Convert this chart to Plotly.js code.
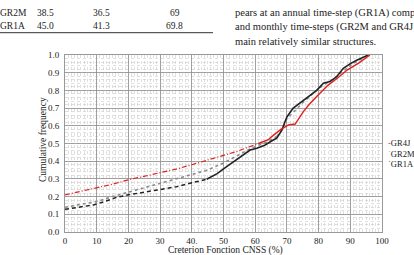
<!DOCTYPE html>
<html><head><meta charset="utf-8">
<script src="https://cdn.plot.ly/plotly-3.0.1.min.js"></script>
<style>html,body{margin:0;padding:0;background:#fff;}#chart{width:414px;height:255px;}</style>
</head><body><div id="chart"></div>
<script>
// GR4J (red)
const gr4jX = [0, 5, 10, 15, 20, 25, 30, 35, 40, 45, 50, 54, 58, 61, 64, 66, 68, 70.5, 72.6, 75.2, 77, 79.4, 83, 86, 89, 92.5, 96.2];
const gr4jY = [0.21, 0.23, 0.25, 0.27, 0.295, 0.315, 0.335, 0.355, 0.38, 0.405, 0.43, 0.454, 0.48, 0.50, 0.52, 0.55, 0.578, 0.605, 0.61, 0.68, 0.72, 0.765, 0.83, 0.87, 0.915, 0.953, 1.0];
// GR2M (grey)
const gr2mX = [0, 5, 10, 15, 20, 25, 30, 35, 40, 45, 50, 55, 58.4, 61, 64, 66.8, 68.4, 70, 75, 80, 85, 90, 95.5];
const gr2mY = [0.14, 0.155, 0.172, 0.2, 0.225, 0.25, 0.279, 0.3, 0.325, 0.35, 0.39, 0.44, 0.47, 0.49, 0.51, 0.54, 0.576, 0.64, 0.73, 0.81, 0.87, 0.94, 1.0];
// GR1A (black)
const gr1aX = [0, 5, 9, 13, 16.3, 20, 25, 30, 35, 39.4, 44.7, 48, 51, 55.2, 58.4, 60.5, 63, 65.7, 66.8, 68.4, 70, 72, 75, 77.5, 79.4, 81.5, 83.6, 85.7, 87.8, 89.9, 92, 95.7];
const gr1aY = [0.128, 0.14, 0.153, 0.175, 0.196, 0.21, 0.225, 0.237, 0.255, 0.275, 0.298, 0.33, 0.369, 0.425, 0.463, 0.473, 0.49, 0.52, 0.53, 0.576, 0.65, 0.70, 0.74, 0.775, 0.80, 0.84, 0.85, 0.877, 0.925, 0.95, 0.97, 1.0];

const xTickVals = [0, 10, 20, 30, 40, 50, 60, 70, 80, 90, 100];
const xTickText = ["0", "10", "20", "30", "40.", "50", "60", "70", "80", "90", "100"];
const yTickVals = [0, 0.1, 0.2, 0.3, 0.4, 0.5, 0.6, 0.7, 0.8, 0.9, 1.0];
const yTickText = ["0.0", "0.1", "0.2", "0.3", "0.4", "0.5", "0.6", "0.7", "0.8", "0.9", "1.0"];

function split(xs, ys, thr) {
  let i = xs.findIndex(v => v >= thr);
  if (i < 0) i = xs.length;
  return [[xs.slice(0, i + 1), ys.slice(0, i + 1)], [xs.slice(i), ys.slice(i)]];
}
const r = split(gr4jX, gr4jY, 61);
const g = split(gr2mX, gr2mY, 66);
const b = split(gr1aX, gr1aY, 44.7);

const traces = [
  {x: g[0][0], y: g[0][1], mode: 'lines', line: {color: '#8a8a8a', width: 1.6, dash: 'dot'}, name: 'GR2M', showlegend: false},
  {x: g[1][0], y: g[1][1], mode: 'lines', line: {color: '#8a8a8a', width: 1.4, dash: 'dot'}, name: 'GR2M', showlegend: false},
  {x: b[0][0], y: b[0][1], mode: 'lines', line: {color: '#222', width: 1.5, dash: '4px,3px'}, name: 'GR1A', showlegend: false},
  {x: b[1][0], y: b[1][1], mode: 'lines', line: {color: '#222', width: 1.6}, name: 'GR1A', showlegend: false},
  {x: r[0][0], y: r[0][1], mode: 'lines', line: {color: '#e0201e', width: 1.2, dash: '5px,2px,1px,2px'}, name: 'GR4J', showlegend: false},
  {x: r[1][0], y: r[1][1], mode: 'lines', line: {color: '#e0201e', width: 1.4}, name: 'GR4J', showlegend: false}
];

const F = 'Liberation Serif';
const layout = {
  width: 414, height: 255,
  margin: {l: 65, r: 32, t: 55, b: 23},
  paper_bgcolor: '#fff', plot_bgcolor: '#fff',
  font: {family: F, size: 9, color: '#222'},
  showlegend: false,
  xaxis: {
    range: [0, 100], tickvals: xTickVals, ticktext: xTickText, automargin: false,
    showgrid: true, gridcolor: '#8c8c8c', gridwidth: 0.8,
    minor: {dtick: 1, showgrid: true, gridcolor: '#cccccc', gridwidth: 0.6, griddash: 'dot'},
    showline: true, linecolor: '#999', linewidth: 1, mirror: true,
    ticks: '', zeroline: false, ticklabelstandoff: 0,
    tickfont: {family: F, size: 9, color: '#222'}
  },
  yaxis: {
    range: [0, 1.0], tickvals: yTickVals, ticktext: yTickText, automargin: false,
    showgrid: true, gridcolor: '#8c8c8c', gridwidth: 0.8,
    minor: {dtick: 0.02, showgrid: true, gridcolor: '#cccccc', gridwidth: 0.6, griddash: 'dot'},
    showline: true, linecolor: '#999', linewidth: 1, mirror: true,
    ticks: '', zeroline: false, ticklabelstandoff: 3,
    tickfont: {family: F, size: 9, color: '#222'}
  },
  shapes: [],
  annotations: []
};
function px(xp) { return (xp - 65) / 317; }
function py(yp) { return (232 - yp) / 177; }
layout.shapes.push({type: 'line', xref: 'paper', yref: 'paper', x0: px(0), x1: px(213), y0: py(32.7), y1: py(32.7),
  line: {color: '#333', width: 1}});

function txt(t, x, y, anchor, size, angle) {
  layout.annotations.push({text: t, xref: 'paper', yref: 'paper', x: px(x), y: py(y),
    xanchor: anchor || 'left', yanchor: 'middle', showarrow: false, textangle: angle || 0,
    font: {family: F, size: size || 9.5, color: '#222'}});
}
// axis titles
txt('Creterion Fonction CNSS (%)', 225, 250.5, 'center', 9.5);
txt('Cumulative frequency', 43, 140, 'center', 9.5, -90);
// fragment of table above
txt('GR2M', -2, 13); txt('38.5', 45, 13, 'center'); txt('36.5', 101, 13, 'center'); txt('69', 175, 13, 'center');
txt('GR1A', -2, 26); txt('45.0', 45, 26, 'center'); txt('41.3', 101, 26, 'center'); txt('69.8', 174, 26, 'center');
// body text fragment
txt('pears at an annual time-step (GR1A) comp', 233, 13, 'left', 10.5);
txt('and monthly time-steps (GR2M and GR4J', 233, 27, 'left', 10.5);
txt('main relatively similar structures.', 233, 41, 'left', 10.5);
// legend
txt('<span style="color:#e0201e">-</span>GR4J', 386, 143, 'left', 8.5);
txt('<span style="color:#999">\u02d9</span>GR2M', 386, 153.5, 'left', 8.5);
txt('<span style="color:#222">\u02d9</span>GR1A', 386, 163.5, 'left', 8.5);

Plotly.newPlot('chart', traces, layout, {staticPlot: true, displayModeBar: false});
</script></body></html>
